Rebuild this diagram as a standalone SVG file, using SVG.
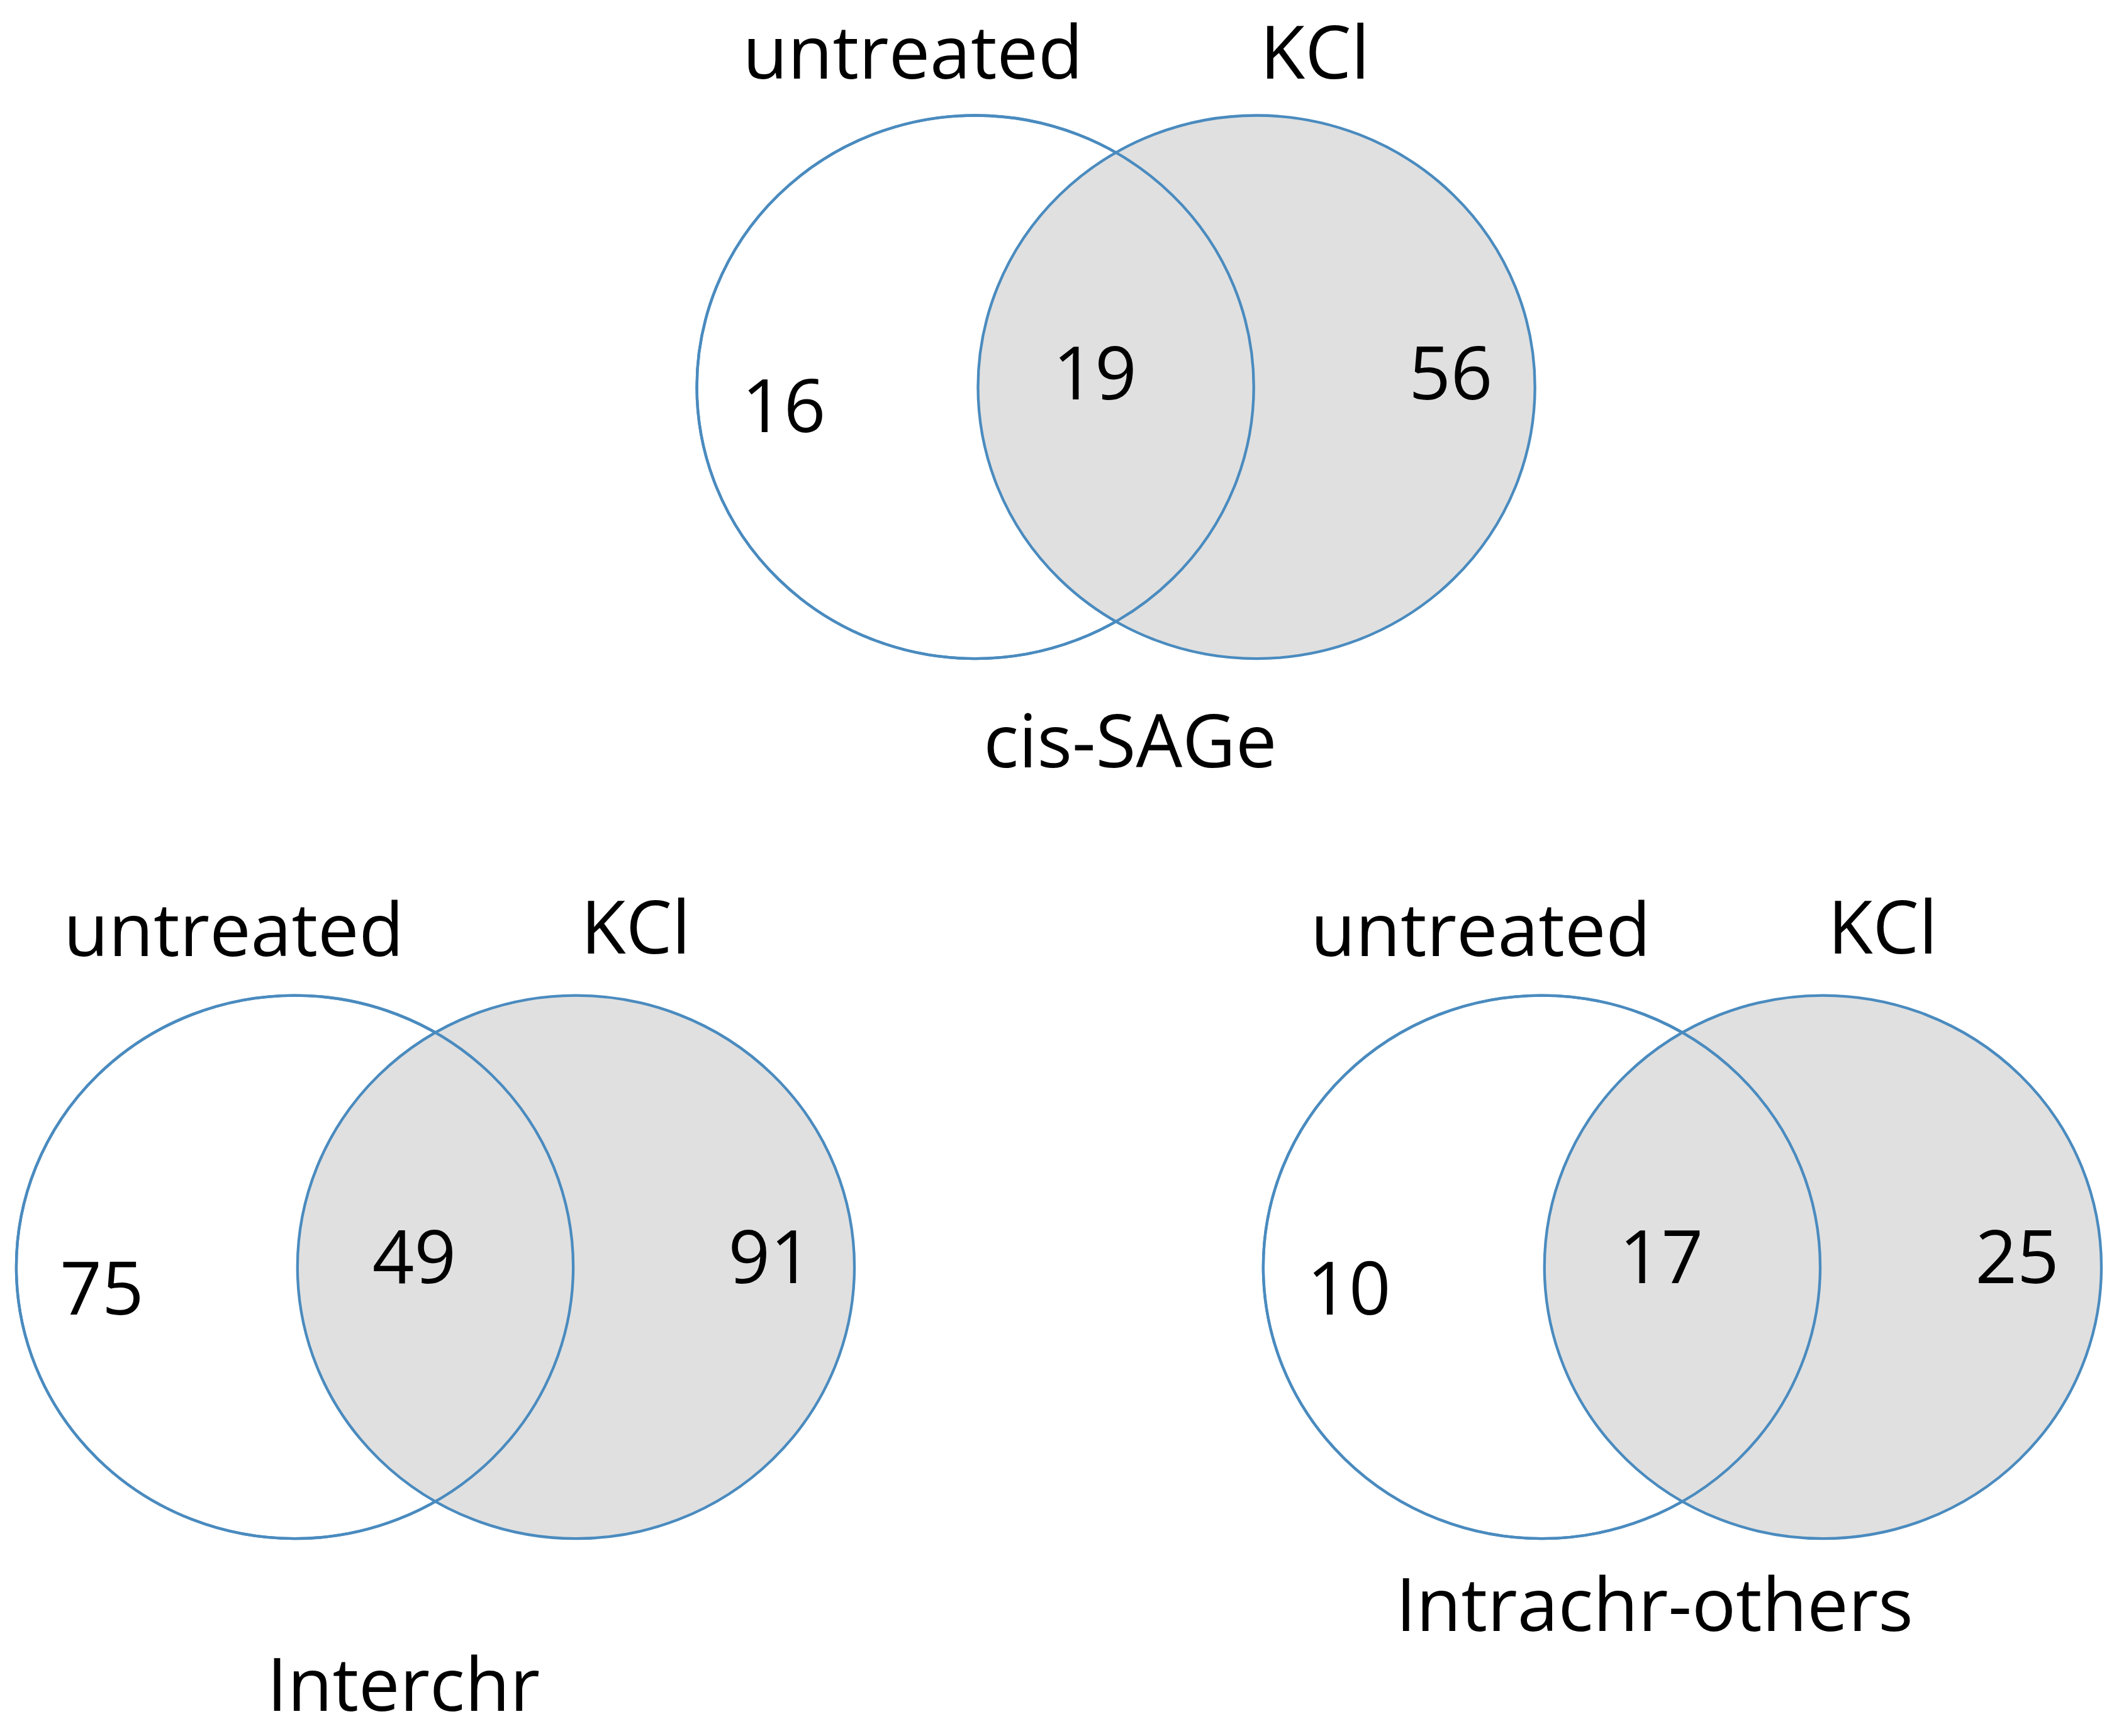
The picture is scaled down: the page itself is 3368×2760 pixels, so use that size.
<svg xmlns="http://www.w3.org/2000/svg" width="3368" height="2760" viewBox="0 0 3368 2760">
<style>
.c{stroke:#4a8bbf;stroke-width:2}
.w{fill:#fff}
.g{fill:#e0e0e0}
.n{fill:none}
text{font-family:"Open Sans","Liberation Sans",sans-serif;font-size:54px;fill:#000;text-anchor:middle}
</style>
<rect width="3368" height="2760" fill="#fff"/>
<g transform="scale(2.159)">
<g id="venn-cis">
<ellipse class="c w" cx="718" cy="285" rx="205" ry="200"/>
<ellipse class="c g" cx="925" cy="285" rx="205" ry="200"/>
<ellipse class="c n" cx="718" cy="285" rx="205" ry="200"/>
<text x="672" y="58">untreated</text><text x="968" y="58">KCl</text>
<text x="577" y="318">16</text><text x="806" y="294">19</text><text x="1068" y="294">56</text>
<text x="832" y="565">cis-SAGe</text>
</g>
<g id="venn-inter">
<ellipse class="c w" cx="217" cy="933" rx="205" ry="200"/>
<ellipse class="c g" cx="424" cy="933" rx="205" ry="200"/>
<ellipse class="c n" cx="217" cy="933" rx="205" ry="200"/>
<text x="172" y="704">untreated</text><text x="468" y="702">KCl</text>
<text x="75" y="968">75</text><text x="305" y="945">49</text><text x="567" y="945">91</text>
<text x="297" y="1260">Interchr</text>
</g>
<g id="venn-intra">
<ellipse class="c w" cx="1135" cy="933" rx="205" ry="200"/>
<ellipse class="c g" cx="1342" cy="933" rx="205" ry="200"/>
<ellipse class="c n" cx="1135" cy="933" rx="205" ry="200"/>
<text x="1090" y="704">untreated</text><text x="1386" y="702">KCl</text>
<text x="993" y="968">10</text><text x="1223" y="945">17</text><text x="1485" y="945">25</text>
<text x="1218" y="1201">Intrachr-others</text>
</g>
<g id="connectors"/>
</g>
</svg>
